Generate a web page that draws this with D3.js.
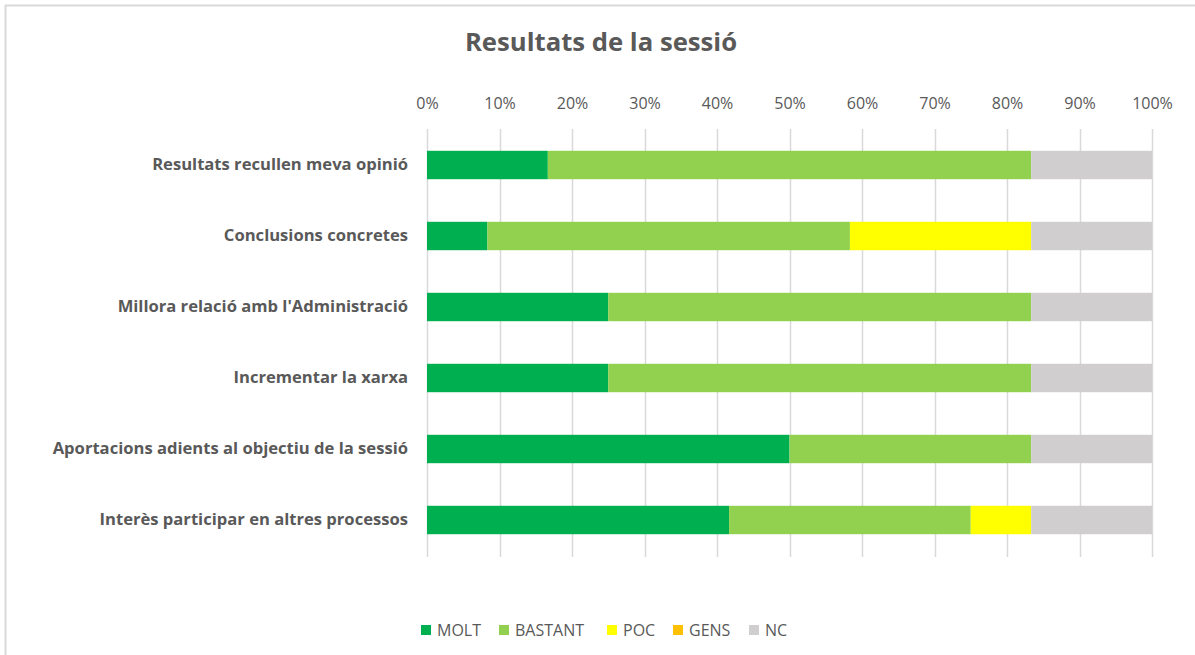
<!DOCTYPE html>
<html>
<head>
<meta charset="utf-8">
<script src="https://cdn.jsdelivr.net/npm/d3@7"></script>
<style>
  body { margin: 0; background: #fff; }
  svg { font-family: "Open Sans", "Noto Sans", sans-serif; }
</style>
</head>
<body>
<svg id="chart" width="1195" height="655"></svg>
<script>
const categories = [
    "Resultats recullen meva opinió",
    "Conclusions concretes",
    "Millora relació amb l'Administració",
    "Incrementar la xarxa ",
    "Aportacions adients al objectiu de la sessió",
    "Interès participar en altres processos"
];
const seriesNames = ["MOLT", "BASTANT", "POC", "GENS", "NC"];
const seriesColors = ["#00B050", "#92D050", "#FFFF00", "#FFC000", "#D0CECE"];
const molt    = [2, 1, 3, 3, 6, 5];
const bastant = [8, 6, 7, 7, 4, 4];
const poc     = [0, 3, 0, 0, 0, 1];
const gens    = [0, 0, 0, 0, 0, 0];
const nc      = [2, 2, 2, 2, 2, 2];
const tickValues = [0, 0.1, 0.2, 0.3, 0.4, 0.5, 0.6, 0.7, 0.8, 0.9, 1];

const svg = d3.select("#chart");

// border of the chart area
svg.append("rect")
    .attr("x", 5.5).attr("y", 5.5)
    .attr("width", 1195).attr("height", 660)
    .attr("fill", "none")
    .attr("stroke", "#D9D9D9")
    .attr("stroke-width", 2);

// build rows as shares of total
let rows = categories.map(function(c, i) {
    let vals = [molt[i], bastant[i], poc[i], gens[i], nc[i]];
    let total = d3.sum(vals);
    let row = { cat: c };
    seriesNames.forEach(function(s, j) { row[s] = vals[j] / total; });
    return row;
});

const x = d3.scaleLinear().domain([0, 1]).range([427, 1152]);
const y = d3.scaleBand().domain(categories).range([129.5, 555.5])
    .paddingInner(0.6).paddingOuter(0.3);

// gridlines
svg.append("g")
    .selectAll("line")
    .data(tickValues)
    .enter()
    .append("line")
    .attr("x1", d => Math.round(x(d)) + 0.5)
    .attr("x2", d => Math.round(x(d)) + 0.5)
    .attr("y1", 129)
    .attr("y2", 557)
    .attr("stroke", "#D9D9D9")
    .attr("stroke-width", 1.5);

// top axis labels
const xAxis = d3.axisTop(x).tickValues(tickValues).tickFormat(d3.format(".0%")).tickSize(0).tickPadding(0);
svg.append("g")
    .attr("transform", "translate(0,109)")
    .call(xAxis)
    .call(g => g.select(".domain").remove())
    .selectAll("text")
    .attr("fill", "#595959")
    .style("font-size", "16px")
    .style("font-family", "'Open Sans', sans-serif");

// stacked bars
const stack = d3.stack().keys(seriesNames);
const stacked = stack(rows);

svg.append("g")
    .selectAll("g")
    .data(stacked)
    .enter()
    .append("g")
    .attr("fill", (d, i) => seriesColors[i])
    .selectAll("rect")
    .data(d => d)
    .enter()
    .append("rect")
    .attr("x", d => x(d[0]))
    .attr("width", d => x(d[1]) - x(d[0]))
    .attr("y", d => y(d.data.cat))
    .attr("height", y.bandwidth());

// category labels
const yAxis = d3.axisLeft(y).tickSize(0).tickPadding(0);
svg.append("g")
    .attr("transform", "translate(408,0)")
    .call(yAxis)
    .call(g => g.select(".domain").remove())
    .selectAll("text")
    .attr("fill", "#595959")
    .style("font-size", "16.6px")
    .style("font-weight", "bold")
    .style("font-family", "'Open Sans', sans-serif");

// title
svg.append("text")
    .attr("x", 601)
    .attr("y", 51)
    .attr("text-anchor", "middle")
    .attr("fill", "#595959")
    .style("font-size", "25.7px")
    .style("font-weight", "bold")
    .text("Resultats de la sessió");

// legend
const legendX = [421, 499, 607, 673, 749];
const legend = svg.append("g")
    .selectAll("g")
    .data(seriesNames)
    .enter()
    .append("g")
    .attr("transform", (d, i) => "translate(" + legendX[i] + ",625)");
legend.append("rect")
    .attr("width", 10).attr("height", 10)
    .attr("fill", (d, i) => seriesColors[i]);
legend.append("text")
    .attr("x", 16)
    .attr("y", 11)
    .attr("fill", "#595959")
    .style("font-size", "16px")
    .text(d => d);
</script>
</body>
</html>
